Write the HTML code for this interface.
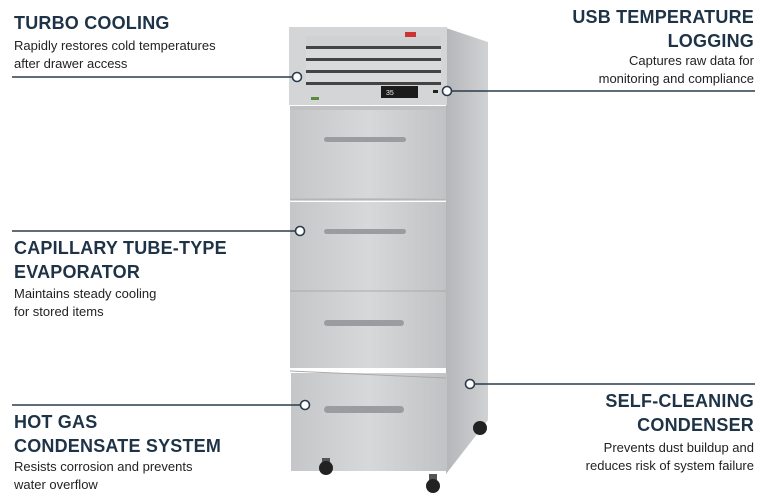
<!DOCTYPE html>
<html><head><meta charset="utf-8"><style>
body{margin:0;width:770px;height:500px;background:#fff;position:relative;overflow:hidden;font-family:"Liberation Sans",sans-serif;color:#1f3347}
.t{position:absolute;font-weight:bold;font-size:18px;line-height:24px;letter-spacing:0.2px}
.b{position:absolute;font-size:13px;line-height:18px;color:#222}
.r{text-align:right}
</style></head><body>
<svg width="770" height="500" style="position:absolute;left:0;top:0">
<defs>
<linearGradient id="fr" x1="0" x2="1"><stop offset="0" stop-color="#c4c6c8"/><stop offset="0.5" stop-color="#d6d8da"/><stop offset="1" stop-color="#c0c2c4"/></linearGradient>
<linearGradient id="sd" x1="0" x2="1"><stop offset="0" stop-color="#b4b6b9"/><stop offset="1" stop-color="#d0d2d4"/></linearGradient>
</defs>
<!-- side panel -->
<polygon points="446,28 488,42 488,420 446,474" fill="url(#sd)"/>
<circle cx="480" cy="428" r="7" fill="#222"/>
<!-- top panel -->
<rect x="289" y="27" width="158" height="78" fill="#d3d5d7"/>
<rect x="306" y="36" width="135" height="10" fill="#cfd1d3"/>
<g fill="#444"><rect x="306" y="46" width="135" height="3"/><rect x="306" y="58" width="135" height="3"/><rect x="306" y="70" width="135" height="3"/><rect x="306" y="82" width="135" height="3"/></g>
<g fill="#d8dadc"><rect x="306" y="49" width="135" height="9"/><rect x="306" y="61" width="135" height="9"/><rect x="306" y="73" width="135" height="9"/></g>
<rect x="405" y="32" width="11" height="5" fill="#c33"/>
<rect x="381" y="86" width="37" height="12" fill="#1b1b1b"/>
<text x="386" y="95" font-size="7" fill="#eee" font-family="Liberation Sans">35</text>
<rect x="311" y="97" width="8" height="3" fill="#5a8a3a"/>
<rect x="433" y="90" width="5" height="3" fill="#222"/>
<!-- drawers -->
<rect x="290" y="106" width="156" height="94" fill="#bfc1c3"/>
<rect x="290" y="110" width="156" height="88" fill="url(#fr)"/>
<rect x="290" y="202" width="156" height="92" fill="url(#fr)"/>
<rect x="290" y="292" width="156" height="76" fill="url(#fr)"/>
<rect x="291" y="373" width="156" height="98" fill="url(#fr)"/>
<g stroke="#aaa" stroke-width="1"><line x1="290" y1="200" x2="446" y2="200"/><line x1="290" y1="291" x2="446" y2="291"/><line x1="290" y1="371" x2="446" y2="378"/></g>
<g fill="#9a9c9f"><rect x="324" y="137" width="82" height="5" rx="2.5"/><rect x="324" y="229" width="82" height="5" rx="2.5"/><rect x="324" y="320" width="80" height="6" rx="3"/><rect x="324" y="406" width="80" height="7" rx="3.5"/></g>
<!-- casters -->
<rect x="322" y="458" width="8" height="6" fill="#555"/>
<circle cx="326" cy="468" r="7" fill="#222"/>
<rect x="429" y="474" width="8" height="6" fill="#555"/>
<circle cx="433" cy="486" r="7" fill="#222"/>
<!-- leaders -->
<g stroke="#2a3b4d" stroke-width="1.4" fill="none">
<line x1="12" y1="77" x2="292" y2="77"/><line x1="452" y1="91" x2="755" y2="91"/>
<line x1="12" y1="231" x2="295" y2="231"/><line x1="475" y1="384" x2="755" y2="384"/>
<line x1="12" y1="405" x2="300" y2="405"/>
</g>
<g stroke="#2a3b4d" stroke-width="1.6" fill="#fff">
<circle cx="297" cy="77" r="4.5"/><circle cx="447" cy="91" r="4.5"/><circle cx="300" cy="231" r="4.5"/><circle cx="470" cy="384" r="4.5"/><circle cx="305" cy="405" r="4.5"/>
</g>
</svg>
<div class="t" style="left:14px;top:11px">TURBO COOLING</div>
<div class="b" style="left:14px;top:37px">Rapidly restores cold temperatures<br>after drawer access</div>
<div class="t r" style="right:16px;top:5px">USB TEMPERATURE<br>LOGGING</div>
<div class="b r" style="right:16px;top:52px">Captures raw data for<br>monitoring and compliance</div>
<div class="t" style="left:14px;top:236px">CAPILLARY TUBE-TYPE<br>EVAPORATOR</div>
<div class="b" style="left:14px;top:285px">Maintains steady cooling<br>for stored items</div>
<div class="t" style="left:14px;top:410px">HOT GAS<br>CONDENSATE SYSTEM</div>
<div class="b" style="left:14px;top:458px">Resists corrosion and prevents<br>water overflow</div>
<div class="t r" style="right:16px;top:389px">SELF-CLEANING<br>CONDENSER</div>
<div class="b r" style="right:16px;top:439px">Prevents dust buildup and<br>reduces risk of system failure</div>
</body></html>
